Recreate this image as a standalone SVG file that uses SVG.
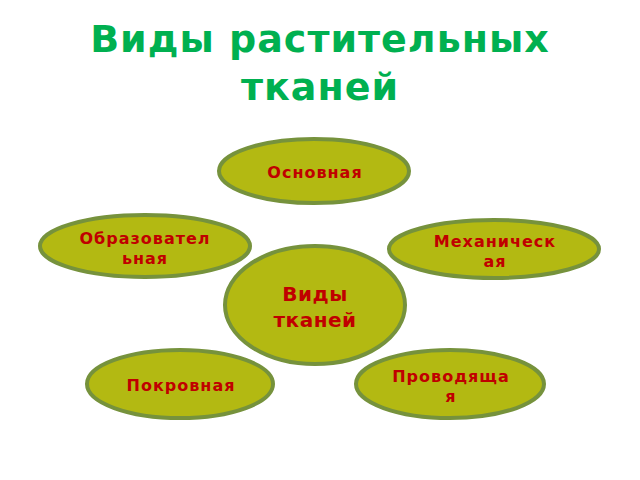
<svg xmlns="http://www.w3.org/2000/svg" width="640" height="480" viewBox="0 0 640 480">
<style>
.node ellipse{fill:#b3b912;stroke:#76923c;stroke-width:4}
.t{font-family:"DejaVu Sans","Noto Sans",sans-serif;font-weight:bold;fill:#c00000;font-size:16px;text-anchor:middle;letter-spacing:1px}
.c{font-size:20px;letter-spacing:0.5px}
.title{font-family:"DejaVu Sans","Noto Sans",sans-serif;font-weight:bold;fill:#00b050;font-size:38px;text-anchor:middle;letter-spacing:1px}
</style>
<rect width="640" height="480" fill="#fff"/>
<g id="title">
<text class="title" x="320" y="52">Виды растительных</text>
<text class="title" x="320" y="100">тканей</text>
</g>
<g id="connectors"></g>
<g id="n-osnovnaya" class="node">
<ellipse cx="314" cy="171" rx="95" ry="32"/>
<text class="t" x="315" y="178">Основная</text>
</g>
<g id="n-obrazovatelnaya" class="node">
<ellipse cx="145" cy="246" rx="105" ry="31"/>
<text class="t" x="145" y="244">Образовател</text>
<text class="t" x="145" y="264">ьная</text>
</g>
<g id="n-mekhanicheskaya" class="node">
<ellipse cx="494" cy="249" rx="105" ry="29"/>
<text class="t" x="495" y="247">Механическ</text>
<text class="t" x="495" y="267">ая</text>
</g>
<g id="n-center" class="node">
<ellipse cx="315" cy="305" rx="90" ry="59"/>
<text class="t c" x="315" y="301">Виды</text>
<text class="t c" x="315" y="327">тканей</text>
</g>
<g id="n-pokrovnaya" class="node">
<ellipse cx="180" cy="384" rx="93" ry="34"/>
<text class="t" x="181" y="391">Покровная</text>
</g>
<g id="n-provodyashchaya" class="node">
<ellipse cx="450" cy="384" rx="94" ry="34"/>
<text class="t" x="451" y="382">Проводяща</text>
<text class="t" x="451" y="402">я</text>
</g>
</svg>
